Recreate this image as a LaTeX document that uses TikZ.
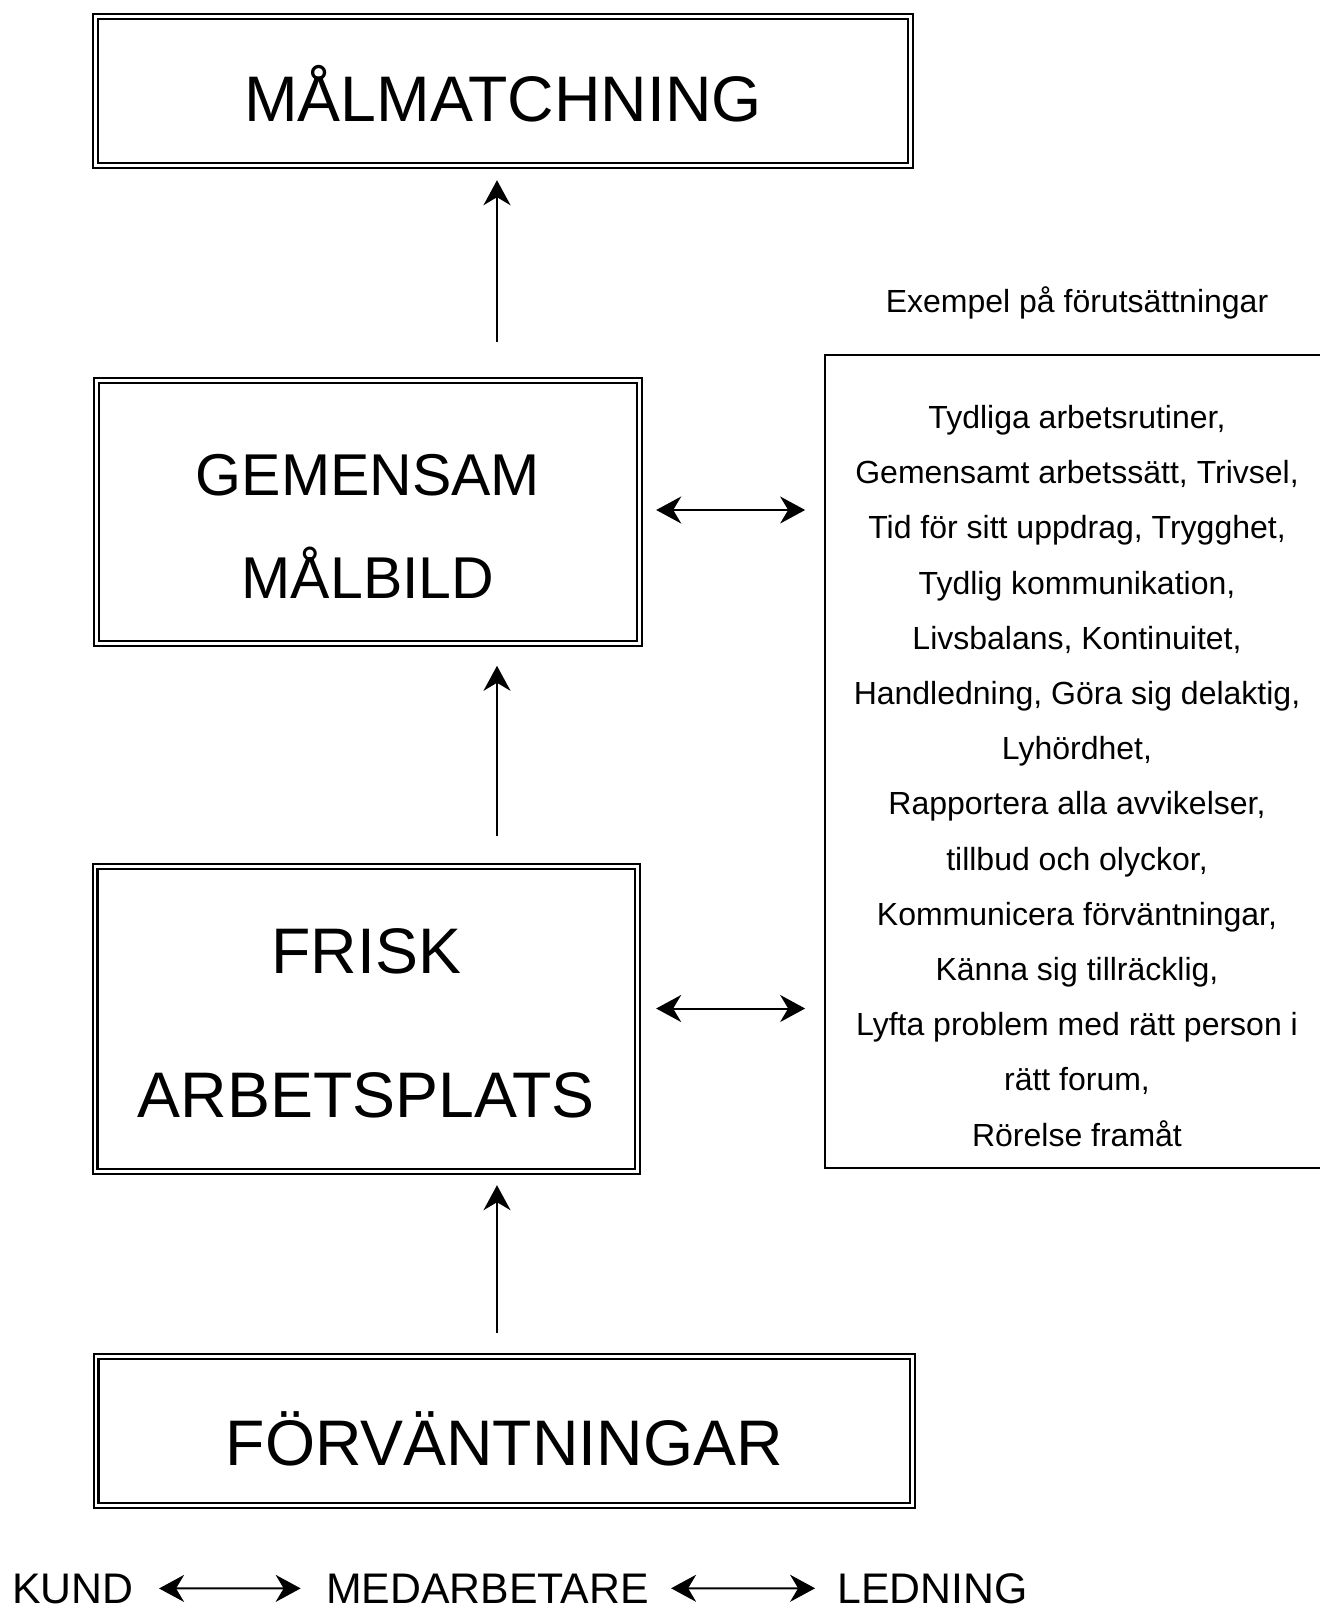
\documentclass[tikz,border=0pt]{standalone}
\usepackage{fontspec}
\setmainfont{Liberation Sans}
\usetikzlibrary{arrows.meta,positioning}

\begin{document}
\begin{tikzpicture}[x=0.5pt, y=-0.5pt, >={Stealth[length=12.5pt, width=13.5pt, inset=4pt]},
  main/.style = {draw, double, line width=1.25pt, double distance=1.15pt, align=center, inner sep=0pt, outer sep=0pt},
  title/.style = {font=\fontsize{32.2pt}{72pt}\selectfont},
  note/.style = {font=\fontsize{16pt}{27.6pt}\selectfont},
  low/.style = {font=\fontsize{21.4pt}{25pt}\selectfont, inner sep=0pt},
  arr/.style = {->, line width=1pt}]
\useasboundingbox (0,0) rectangle (1319,1612);
\coordinate (spine) at (497,0);

\node[main, title, minimum width=407.4pt, minimum height=74.4pt, text height=30.7pt, text depth=0pt] (goal) at (503,91) {MÅLMATCHNING};
\node[main, font=\fontsize{29.5pt}{51.4pt}\selectfont, minimum width=271.4pt, minimum height=131.4pt] (shared) at (368,512) {\rule{0pt}{34.9pt}GEMENSAM\\MÅLBILD};
\node[main, title, minimum width=271.1pt, minimum height=152.4pt] (healthy) at (366.25,1019) {\rule{0pt}{26.5pt}FRISK\\ARBETSPLATS};
\node[main, title, minimum width=408.1pt, minimum height=74.4pt, text height=34pt, text depth=0pt] (expect) at (504.25,1431) {FÖRVÄNTNINGAR};

\node[note, anchor=base] (factorstitle) at (1077,312.7) {Exempel på förutsättningar};
\node[note, draw, line width=0.85pt, align=center, inner sep=0pt, minimum width=252pt, minimum height=406.5pt] (factors) at (1077,761.5) {\rule{0pt}{26pt}Tydliga arbetsrutiner,\\Gemensamt arbetssätt, Trivsel,\\Tid för sitt uppdrag, Trygghet,\\Tydlig kommunikation,\\Livsbalans, Kontinuitet,\\Handledning, Göra sig delaktig,\\Lyhördhet,\\Rapportera alla avvikelser,\\tillbud och olyckor,\\Kommunicera förväntningar,\\Känna sig tillräcklig,\\Lyfta problem med rätt person i\\rätt forum,\\Rörelse framåt};

\node[low, anchor=base west] (client) at (12,1603) {KUND};
\node[low, base right=95.8pt of client] (staff) {MEDARBETARE};
\node[low, base right=94pt of staff] (lead) {LEDNING};

\draw[arr, shorten <=11.8pt, shorten >=6.9pt] (expect.north -| spine) -- (healthy.south -| spine);
\draw[arr, shorten <=15.3pt, shorten >=11.2pt] (healthy.north -| spine) -- (shared.south -| spine);
\draw[arr, shorten <=19.2pt, shorten >=7.4pt] (shared.north -| spine) -- (goal.south -| spine);
\draw[arr, <->, shorten <=8.4pt, shorten >=9.5pt] ([yshift=1pt]shared.east) -- ([yshift=1pt]shared.east -| factors.west);
\draw[arr, <->, shorten <=9.4pt, shorten >=9.5pt] ([yshift=5.25pt]healthy.east) -- ([yshift=5.25pt]healthy.east -| factors.west);
\draw[arr, <->, shorten <=12.5pt, shorten >=12.5pt] (client) -- (staff);
\draw[arr, <->, shorten <=11pt, shorten >=11pt] (staff) -- (lead);
\end{tikzpicture}
\end{document}
